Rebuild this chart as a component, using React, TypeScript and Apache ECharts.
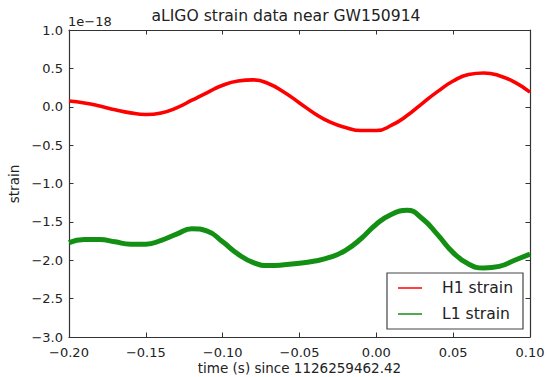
import React, { useEffect, useRef } from "react";
import * as echarts from "echarts";

const times = [
  -0.2, -0.19, -0.18, -0.17, -0.16, -0.15, -0.14, -0.13, -0.12, -0.11, -0.1,
  -0.09, -0.08, -0.07, -0.06, -0.05, -0.04, -0.03, -0.02, -0.01, 0.0,
  0.01, 0.02, 0.03, 0.04, 0.05, 0.06, 0.07, 0.08, 0.09, 0.1,
];
const h1Strain = [
  0.075, 0.05, 0.01, -0.04, -0.08, -0.1, -0.08, -0.015, 0.085, 0.185, 0.28,
  0.335, 0.35, 0.3, 0.19, 0.05, -0.09, -0.2, -0.27, -0.31, -0.31,
  -0.24, -0.115, 0.045, 0.2, 0.335, 0.42, 0.44, 0.405, 0.32, 0.19,
];
const l1Strain = [
  -1.77, -1.73, -1.73, -1.76, -1.79, -1.79, -1.74, -1.66, -1.59, -1.62, -1.76,
  -1.92, -2.03, -2.07, -2.06, -2.04, -2.01, -1.96, -1.87, -1.72, -1.53,
  -1.4, -1.35, -1.46, -1.67, -1.9, -2.05, -2.1, -2.08, -2.0, -1.92,
];
const seriesNames = ["H1 strain", "L1 strain"];
const seriesColors = ["#ff0000", "#139013"];
const titleText = "aLIGO strain data near GW150914";
const xLabel = "time (s) since 1126259462.42";
const yLabel = "strain";
const offsetText = "1e\u221218";

const FONT = "DejaVu Sans";
const minus = (s: string) => s.replace("-", "\u2212");

export default function App() {
  const ref = useRef<HTMLDivElement>(null);
  useEffect(() => {
    if (!ref.current) return;
    const chart = echarts.init(ref.current, null, { renderer: "svg" });
    const frame = "#333";
    const tickStyle = { show: true, inside: true, length: 4.5, lineStyle: { color: frame, width: 1 } };
    const xCommon = {
      type: "value" as const,
      min: -0.2,
      max: 0.1,
      interval: 0.05,
      splitLine: { show: false },
      axisLine: { show: true, onZero: false, lineStyle: { color: frame, width: 1.2 } },
      axisTick: tickStyle,
    };
    const yCommon = {
      type: "value" as const,
      min: -3,
      max: 1,
      interval: 0.5,
      splitLine: { show: false },
      axisLine: { show: true, onZero: false, lineStyle: { color: frame, width: 1.2 } },
      axisTick: tickStyle,
    };
    const legendX = 387, legendY = 273, legendW = 136, legendH = 56;
    chart.setOption({
      animation: false,
      backgroundColor: "#ffffff",
      grid: { left: 69, right: 18, top: 30, bottom: 40, containLabel: false },
      xAxis: [
        {
          ...xCommon,
          position: "bottom",
          axisLabel: {
            show: true,
            margin: 9,
            color: "#222",
            fontFamily: FONT,
            fontSize: 13,
            formatter: (v: number) => minus((Math.abs(v) < 1e-9 ? 0 : v).toFixed(2)),
          },
        },
        { ...xCommon, position: "top", axisLabel: { show: false } },
      ],
      yAxis: [
        {
          ...yCommon,
          position: "left",
          axisLabel: {
            show: true,
            margin: 6,
            color: "#222",
            fontFamily: FONT,
            fontSize: 13,
            formatter: (v: number) => minus((Math.abs(v) < 1e-9 ? 0 : v).toFixed(1)),
          },
        },
        { ...yCommon, position: "right", axisLabel: { show: false } },
      ],
      series: [
        {
          name: seriesNames[0],
          type: "line",
          xAxisIndex: 0,
          yAxisIndex: 0,
          data: times.map((t, i) => [t, h1Strain[i]]),
          showSymbol: false,
          symbol: "none",
          smooth: 0.5,
          lineStyle: { color: seriesColors[0], width: 3.6 },
          z: 2,
        },
        {
          name: seriesNames[1],
          type: "line",
          xAxisIndex: 0,
          yAxisIndex: 0,
          data: times.map((t, i) => [t, l1Strain[i]]),
          showSymbol: false,
          symbol: "none",
          smooth: 0.5,
          lineStyle: { color: seriesColors[1], width: 5 },
          z: 3,
        },
      ],
      graphic: [
        {
          type: "text",
          x: 286,
          y: 16,
          style: { text: titleText, fontFamily: FONT, fontSize: 15.6, fill: "#222", textAlign: "center", textVerticalAlign: "middle" },
        },
        {
          type: "text",
          x: 68,
          y: 21,
          style: { text: offsetText, fontFamily: FONT, fontSize: 13, fill: "#222", textAlign: "left", textVerticalAlign: "middle" },
        },
        {
          type: "text",
          x: 299.5,
          y: 368,
          style: { text: xLabel, fontFamily: FONT, fontSize: 13.5, fill: "#222", textAlign: "center", textVerticalAlign: "middle" },
        },
        {
          type: "text",
          x: 13.5,
          y: 184,
          rotation: Math.PI / 2,
          style: { text: yLabel, fontFamily: FONT, fontSize: 13.5, fill: "#222", textAlign: "center", textVerticalAlign: "middle" },
        },
        {
          type: "group",
          z: 100,
          children: [
            {
              type: "rect",
              shape: { x: legendX, y: legendY, width: legendW, height: legendH },
              style: { fill: "#ffffff", stroke: "#444", lineWidth: 1.2 },
            },
            {
              type: "line",
              shape: { x1: 398, y1: 288, x2: 422, y2: 288 },
              style: { stroke: seriesColors[0], lineWidth: 1.5 },
            },
            {
              type: "text",
              x: 442,
              y: 288,
              style: { text: seriesNames[0], fontFamily: FONT, fontSize: 15.6, fill: "#222", textAlign: "left", textVerticalAlign: "middle" },
            },
            {
              type: "line",
              shape: { x1: 398, y1: 314, x2: 422, y2: 314 },
              style: { stroke: seriesColors[1], lineWidth: 1.5 },
            },
            {
              type: "text",
              x: 442,
              y: 314,
              style: { text: seriesNames[1], fontFamily: FONT, fontSize: 15.6, fill: "#222", textAlign: "left", textVerticalAlign: "middle" },
            },
          ],
        },
      ],
    });
    return () => chart.dispose();
  }, []);
  return <div ref={ref} style={{ width: 548, height: 377, position: "absolute", left: 0, top: 0 }} />;
}
